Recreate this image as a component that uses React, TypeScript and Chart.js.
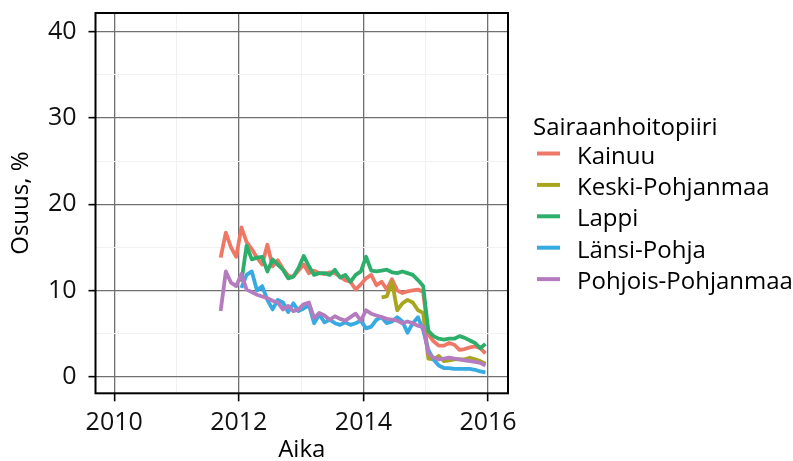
import React, { useEffect, useRef } from "react";
import { Chart, registerables } from "chart.js";

Chart.register(...registerables);

const months = [
  "2011-09", "2011-10", "2011-11", "2011-12",
  "2012-01", "2012-02", "2012-03", "2012-04", "2012-05", "2012-06", "2012-07", "2012-08", "2012-09", "2012-10", "2012-11", "2012-12",
  "2013-01", "2013-02", "2013-03", "2013-04", "2013-05", "2013-06", "2013-07", "2013-08", "2013-09", "2013-10", "2013-11", "2013-12",
  "2014-01", "2014-02", "2014-03", "2014-04", "2014-05", "2014-06", "2014-07", "2014-08", "2014-09", "2014-10", "2014-11", "2014-12",
  "2015-01", "2015-02", "2015-03", "2015-04", "2015-05", "2015-06", "2015-07", "2015-08", "2015-09", "2015-10", "2015-11", "2015-12",
];

const kainuu = [
  13.8, 16.7, 15.0, 13.9,
  17.3, 15.6, 14.8, 13.8, 13.0, 15.3, 12.8, 13.5, 12.5, 11.7, 11.6, 12.3,
  13.0, 12.0, 12.3, 12.0, 11.9, 12.1, 12.0, 11.6, 11.2, 11.0, 10.1, 10.7,
  11.4, 11.8, 10.6, 11.0, 10.1, 11.3, 10.0, 9.7, 9.9, 10.0, 10.1, 9.8,
  4.9, 4.1, 3.6, 3.6, 3.9, 3.7, 3.1, 3.2, 3.4, 3.5, 3.3, 2.7,
];

const keskiPohjanmaa = [
  null, null, null, null,
  null, null, null, null, null, null, null, null, null, null, null, null,
  null, null, null, null, null, null, null, null, null, null, null, null,
  null, null, null, 9.2, 9.3, 11.0, 7.7, 8.5, 8.9, 8.6, 7.7, 7.4,
  2.1, 2.0, 2.4, 1.8, 1.9, 2.0, 2.0, 2.0, 2.2, 2.0, 1.8, 1.5,
];

const lappi = [
  null, null, null, null,
  11.0, 15.2, 13.6, 13.8, 13.9, 12.2, 13.6, 13.0, 12.4, 11.4, 11.6, 12.6,
  14.0, 12.8, 11.8, 12.0, 12.0, 11.8, 12.4, 11.5, 11.8, 11.0, 11.8, 12.2,
  13.9, 12.3, 12.2, 12.3, 12.4, 12.1, 12.0, 12.2, 12.0, 11.8, 11.2, 10.5,
  5.3, 4.7, 4.4, 4.3, 4.4, 4.4, 4.7, 4.5, 4.2, 3.9, 3.3, 3.8,
];

const lansiPohja = [
  null, null, null, null,
  10.3, 11.8, 12.2, 10.0, 10.5, 8.9, 7.8, 8.9, 8.6, 7.5, 8.5, 7.6,
  7.9, 8.3, 6.2, 7.2, 6.3, 6.6, 6.2, 6.0, 6.3, 6.0, 6.2, 6.5,
  5.6, 5.8, 6.6, 6.9, 6.2, 6.4, 6.9, 6.4, 5.1, 6.2, 6.9, 5.4,
  3.1, 2.0, 1.3, 1.0, 1.0, 0.9, 0.9, 0.9, 0.9, 0.8, 0.6, 0.5,
];

const pohjoisPohjanmaa = [
  7.6, 12.2, 10.9, 10.5,
  11.9, 10.1, 9.8, 9.5, 9.3, 9.1, 8.8, 8.6, 7.8, 8.2, 7.6, 7.8,
  8.4, 8.6, 6.8, 7.4, 7.1, 6.6, 7.0, 6.7, 6.5, 6.9, 7.3, 6.5,
  7.7, 7.3, 7.1, 6.9, 6.7, 6.6, 6.5, 6.2, 6.4, 6.2, 5.9, 5.8,
  2.7, 2.2, 2.0, 2.1, 2.2, 2.1, 2.0, 1.9, 1.8, 1.7, 1.6, 1.3,
];

const seriesNames = ["Kainuu", "Keski-Pohjanmaa", "Lappi", "Länsi-Pohja", "Pohjois-Pohjanmaa"];
const seriesValues = [kainuu, keskiPohjanmaa, lappi, lansiPohja, pohjoisPohjanmaa];
const seriesColors = ["#EF7766", "#A8A51E", "#2DAE6B", "#38AAE2", "#B47CBF"];

const xTicks = [2010, 2011, 2012, 2013, 2014, 2015, 2016];
const xLabelTicks = [2010, 2012, 2014, 2016];
const yTicks = [0, 5, 10, 15, 20, 25, 30, 35, 40];
const yLabelTicks = [0, 10, 20, 30, 40];

const legendTitle = "Sairaanhoitopiiri";
const xTitle = "Aika";
const yTitle = "Osuus, %";

const FONT = "'Open Sans', 'Liberation Sans', sans-serif";
const W = 793;
const H = 461;

const toYear = (s: string) => {
  const [y, m] = s.split("-").map(Number);
  return y + (m - 0.5) / 12;
};

const zeroPad = (s: any) => {
  s.paddingTop = 0;
  s.paddingBottom = 0;
  s.paddingLeft = 0;
  s.paddingRight = 0;
};

const panelBorder = {
  id: "panelBorder",
  afterDatasetsDraw(chart: any) {
    const { ctx, chartArea: a } = chart;
    ctx.save();
    ctx.strokeStyle = "#000";
    ctx.lineWidth = 2;
    ctx.strokeRect(a.left, a.top, a.right - a.left, a.bottom - a.top);
    ctx.restore();
  },
};

const customLegend = {
  id: "customLegend",
  afterDraw(chart: any) {
    const { ctx } = chart;
    ctx.save();
    ctx.fillStyle = "#000";
    ctx.textAlign = "left";
    ctx.textBaseline = "alphabetic";
    ctx.font = `24px ${FONT}`;
    ctx.fillText(legendTitle, 533, 135);
    seriesNames.forEach((name, i) => {
      const yc = 153.5 + i * 31.4;
      ctx.strokeStyle = seriesColors[i];
      ctx.lineWidth = 4;
      ctx.beginPath();
      ctx.moveTo(537, yc);
      ctx.lineTo(560, yc);
      ctx.stroke();
      ctx.fillStyle = "#000";
      ctx.fillText(name, 577, yc + 10);
    });
    ctx.restore();
  },
};

export default function App() {
  const canvasRef = useRef<HTMLCanvasElement | null>(null);

  useEffect(() => {
    let chart: Chart | null = null;
    let cancelled = false;
    const build = () => {
      if (cancelled || !canvasRef.current) return;
      const datasets = seriesNames.map((name, i) => ({
        label: name,
        data: months.map((mo, j) => ({ x: toYear(mo), y: seriesValues[i][j] })),
        borderColor: seriesColors[i],
        backgroundColor: seriesColors[i],
        borderWidth: 3.8,
        pointRadius: 0,
        tension: 0,
        fill: false,
        spanGaps: false,
        order: seriesNames.length - i,
      }));
      chart = new Chart(canvasRef.current, {
        type: "line",
        data: { datasets },
        plugins: [panelBorder, customLegend],
        options: {
          animation: false,
          responsive: false,
          maintainAspectRatio: false,
          layout: { padding: { left: 0, right: W - 508, top: 13, bottom: 0 } },
          plugins: {
            legend: { display: false },
            tooltip: { enabled: false },
          },
          elements: { line: { borderCapStyle: "butt", borderJoinStyle: "round" } },
          scales: {
            x: {
              type: "linear",
              min: 2009.7,
              max: 2016.32,
              afterBuildTicks: (s: any) => {
                s.ticks = xTicks.map((v) => ({ value: v }));
              },
              afterFit: (s: any) => {
                s.height = H - 393.3;
                zeroPad(s);
              },
              ticks: {
                autoSkip: false,
                maxRotation: 0,
                padding: 7,
                color: "#111",
                font: { family: FONT, size: 25 },
                callback: (v: any) => (xLabelTicks.includes(Number(v)) ? String(v) : ""),
              },
              grid: {
                color: (c: any) => (xLabelTicks.includes(c.tick?.value) ? "#707070" : "#f1f1f1"),
                lineWidth: (c: any) => (xLabelTicks.includes(c.tick?.value) ? 1.3 : 1),
                tickLength: 8,
                tickWidth: 1.6,
                tickColor: (c: any) => (xLabelTicks.includes(c.tick?.value) ? "#000" : "rgba(0,0,0,0)"),
              },
              border: { display: false },
              title: {
                display: true,
                text: xTitle,
                color: "#000",
                padding: 0,
                font: { family: FONT, size: 24, lineHeight: 0.9 },
              },
            },
            y: {
              type: "linear",
              min: -1.93,
              max: 42.17,
              afterBuildTicks: (s: any) => {
                s.ticks = yTicks.map((v) => ({ value: v }));
              },
              afterFit: (s: any) => {
                s.width = 95.5;
                zeroPad(s);
              },
              ticks: {
                padding: 12,
                color: "#111",
                font: { family: FONT, size: 25 },
                callback: (v: any) => (yLabelTicks.includes(Number(v)) ? String(v) : ""),
              },
              grid: {
                color: (c: any) => (yLabelTicks.includes(c.tick?.value) ? "#707070" : "#f1f1f1"),
                lineWidth: (c: any) => (yLabelTicks.includes(c.tick?.value) ? 1.3 : 1),
                tickLength: 7,
                tickWidth: 1.6,
                tickColor: (c: any) => (yLabelTicks.includes(c.tick?.value) ? "#000" : "rgba(0,0,0,0)"),
              },
              border: { display: false },
              title: {
                display: true,
                text: yTitle,
                color: "#000",
                padding: { top: 9, bottom: 0 },
                font: { family: FONT, size: 24, lineHeight: 1 },
              },
            },
          },
        },
      } as any);
    };
    if ((document as any).fonts && (document as any).fonts.load) {
      Promise.all([
        (document as any).fonts.load(`24px 'Open Sans'`),
        (document as any).fonts.load(`25px 'Open Sans'`),
      ])
        .catch(() => null)
        .then(build);
    } else {
      build();
    }
    return () => {
      cancelled = true;
      if (chart) chart.destroy();
    };
  }, []);

  return (
    <div style={{ position: "fixed", left: 0, top: 0, width: W, height: H, background: "#fff" }}>
      <canvas ref={canvasRef} width={W} height={H} style={{ display: "block" }} />
    </div>
  );
}
